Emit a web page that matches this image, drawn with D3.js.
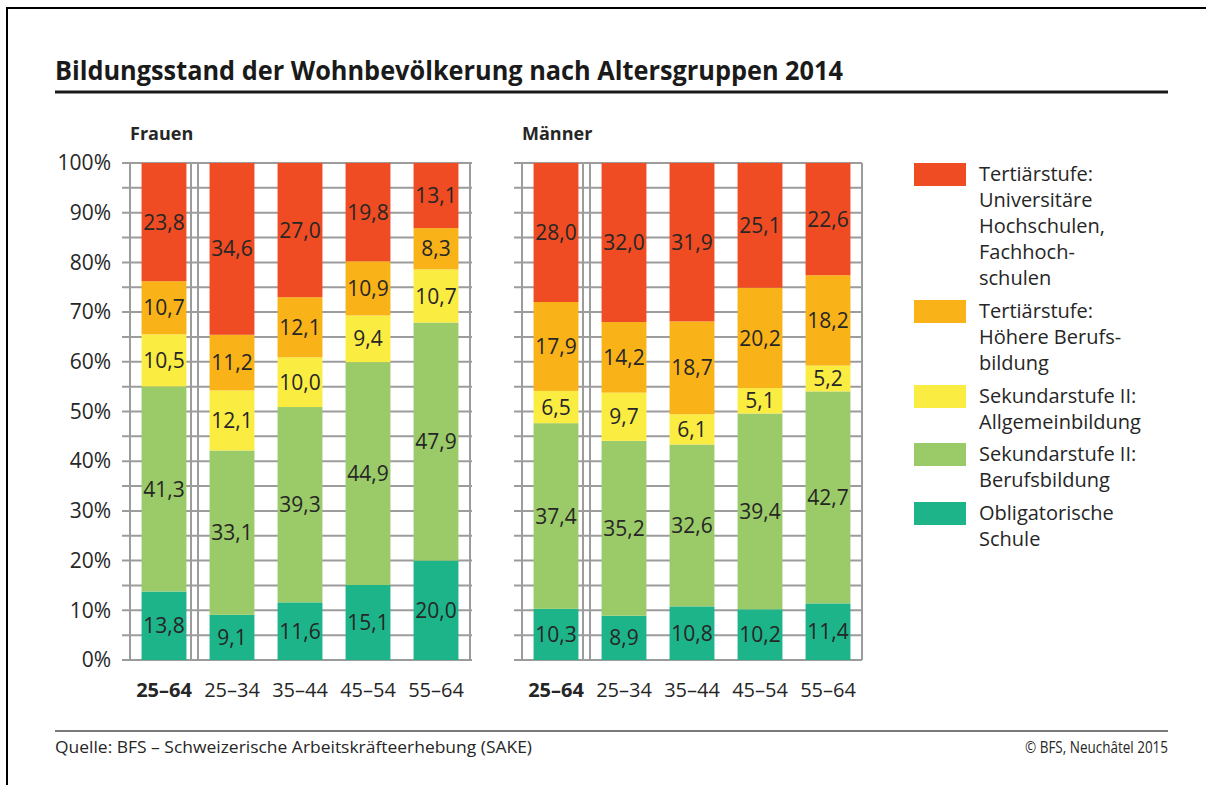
<!DOCTYPE html>
<html lang="de">

<head>
    <meta charset="UTF-8">
    <title>Bildungsstand der Wohnbevölkerung nach Altersgruppen 2014</title>
    <script src="https://d3js.org/d3.v7.min.js"></script>
    <style>
        body { margin: 0; background: #fff; }
        text { font-family: "Open Sans", "Noto Sans", sans-serif; fill: #262626; }
    </style>
</head>

<body>
    <script>
        // Daten
        var categories = ["25–64", "25–34", "35–44", "45–54", "55–64"];
        var levels = ["obl", "sek2b", "sek2a", "tert_b", "tert_u"];
        var levelNames = [
            ["Obligatorische", "Schule"],
            ["Sekundarstufe II:", "Berufsbildung"],
            ["Sekundarstufe II:", "Allgemeinbildung"],
            ["Tertiärstufe:", "Höhere Berufs-", "bildung"],
            ["Tertiärstufe:", "Universitäre", "Hochschulen,", "Fachhoch-", "schulen"]
        ];
        var colors = ["#1db48a", "#9bcb68", "#fbec42", "#f9b318", "#ef4c23"];

        // Frauen (unten nach oben)
        var frauenObl = [13.8, 9.1, 11.6, 15.1, 20.0];
        var frauenSek2b = [41.3, 33.1, 39.3, 44.9, 47.9];
        var frauenSek2a = [10.5, 12.1, 10.0, 9.4, 10.7];
        var frauenTertB = [10.7, 11.2, 12.1, 10.9, 8.3];
        var frauenTertU = [23.8, 34.6, 27.0, 19.8, 13.1];

        // Männer
        var maennerObl = [10.3, 8.9, 10.8, 10.2, 11.4];
        var maennerSek2b = [37.4, 35.2, 32.6, 39.4, 42.7];
        var maennerSek2a = [6.5, 9.7, 6.1, 5.1, 5.2];
        var maennerTertB = [17.9, 14.2, 18.7, 20.2, 18.2];
        var maennerTertU = [28.0, 32.0, 31.9, 25.1, 22.6];

        var yTicks = [0, 10, 20, 30, 40, 50, 60, 70, 80, 90, 100];

        function toRows(series) {
            return categories.map(function (c, i) {
                var row = { cat: c };
                levels.forEach(function (l, j) { row[l] = series[j][i]; });
                return row;
            });
        }

        var panels = [
            { title: "Frauen", x0: 130, rows: toRows([frauenObl, frauenSek2b, frauenSek2a, frauenTertB, frauenTertU]), axis: true },
            { title: "Männer", x0: 522, rows: toRows([maennerObl, maennerSek2b, maennerSek2a, maennerTertB, maennerTertU]), axis: false }
        ];

        var width = 1206, height = 787;
        var plotTop = 163, plotBottom = 660, plotW = 340;
        var gridColor = "#9c9c9c";

        var svg = d3.select("body").append("svg")
            .attr("width", width)
            .attr("height", height);

        // Rahmen (oben und links)
        svg.append("line").attr("x1", 6).attr("x2", width).attr("y1", 8).attr("y2", 8)
            .attr("stroke", "#000").attr("stroke-width", 2);
        svg.append("line").attr("x1", 7).attr("x2", 7).attr("y1", 8).attr("y2", 785)
            .attr("stroke", "#000").attr("stroke-width", 2);

        // Titel
        svg.append("text")
            .attr("x", 55).attr("y", 80)
            .attr("textLength", 788).attr("lengthAdjust", "spacingAndGlyphs")
            .style("font-size", "27px").style("font-weight", "bold").style("fill", "#1a1a1a")
            .text("Bildungsstand der Wohnbevölkerung nach Altersgruppen 2014");
        svg.append("line").attr("x1", 55).attr("x2", 1168).attr("y1", 92).attr("y2", 92)
            .attr("stroke", "#1a1a1a").attr("stroke-width", 3);

        var y = d3.scaleLinear().domain([0, 1]).range([plotBottom, plotTop]);
        var yPct = d3.scaleLinear().domain([0, 100]).range([plotBottom, plotTop]);

        var stack = d3.stack().keys(levels).offset(d3.stackOffsetExpand);

        panels.forEach(function (p) {
            var x = d3.scaleBand()
                .domain(categories)
                .range([p.x0, p.x0 + plotW])
                .paddingInner(0.34)
                .paddingOuter(0.17);

            var g = svg.append("g");

            // Untertitel
            g.append("text")
                .attr("x", p.x0).attr("y", 140)
                .style("font-size", "18px").style("font-weight", "bold")
                .text(p.title);

            // horizontale Gitterlinien alle 5%
            g.selectAll("line.hgrid")
                .data(d3.range(0, 101, 5))
                .enter().append("line")
                .attr("class", "hgrid")
                .attr("x1", p.x0 - 8).attr("x2", p.x0 + plotW + (p.axis ? 2 : 0))
                .attr("y1", function (d) { return yPct(d); })
                .attr("y2", function (d) { return yPct(d); })
                .attr("stroke", gridColor).attr("stroke-width", 2);

            // vertikale Linien: Rand links/rechts und Doppellinie nach Total
            var sep = x(categories[1]) - (x.step() - x.bandwidth()) / 2;
            [p.x0, sep - 7, sep, p.x0 + plotW].forEach(function (vx) {
                g.append("line")
                    .attr("x1", vx).attr("x2", vx)
                    .attr("y1", plotTop).attr("y2", plotBottom)
                    .attr("stroke", gridColor).attr("stroke-width", 2);
            });

            // Balken
            var layers = g.selectAll("g.layer")
                .data(stack(p.rows))
                .enter().append("g")
                .attr("class", "layer")
                .attr("fill", function (d, i) { return colors[i]; });

            layers.selectAll("rect")
                .data(function (d) { return d; })
                .enter().append("rect")
                .attr("x", function (d) { return x(d.data.cat); })
                .attr("width", x.bandwidth())
                .attr("y", function (d) { return y(d[1]); })
                .attr("height", function (d) { return y(d[0]) - y(d[1]); });

            // Werte
            layers.each(function (layer) {
                d3.select(this).selectAll("text")
                    .data(layer)
                    .enter().append("text")
                    .attr("x", function (d) { return x(d.data.cat) + x.bandwidth() / 2; })
                    .attr("y", function (d) { return y((d[0] + d[1]) / 2); })
                    .attr("dy", "0.36em")
                    .attr("text-anchor", "middle")
                    .style("font-size", "21px")
                    .style("fill", "#262626")
                    .text(function (d) { return d3.format(".1f")(d.data[layer.key]).replace(".", ","); });
            });

            // x-Achse Beschriftung
            g.selectAll("text.xlab")
                .data(categories)
                .enter().append("text")
                .attr("class", "xlab")
                .attr("x", function (d) { return x(d) + x.bandwidth() / 2; })
                .attr("y", 697)
                .attr("text-anchor", "middle")
                .style("font-size", "20px")
                .style("font-weight", function (d, i) { return i === 0 ? "bold" : "normal"; })
                .text(function (d) { return d; });

            // y-Achse
            if (p.axis) {
                var ax = g.append("g")
                    .attr("transform", "translate(" + (p.x0 - 8) + ",0)")
                    .call(d3.axisLeft(yPct).tickValues(yTicks).tickSize(0).tickPadding(11)
                        .tickFormat(function (d) { return d + "%"; }));
                ax.select(".domain").remove();
                ax.selectAll("text").style("font-size", "21px").style("font-family", "\"Open Sans\", sans-serif")
                    .attr("fill", "#262626");
            }
        });

        // Legende
        var legendY = [163, 300, 385, 443, 502];
        var lg = svg.append("g");
        for (var i = levels.length - 1, k = 0; i >= 0; i--, k++) {
            lg.append("rect")
                .attr("x", 914).attr("y", legendY[k])
                .attr("width", 52).attr("height", 23)
                .attr("fill", colors[i]);
            var t = lg.append("text")
                .attr("x", 979).attr("y", legendY[k] + 18)
                .style("font-size", "20px");
            levelNames[i].forEach(function (line, j) {
                t.append("tspan").attr("x", 979).attr("dy", j === 0 ? 0 : 26).text(line);
            });
        }

        // Fusszeile
        svg.append("line").attr("x1", 55).attr("x2", 1168).attr("y1", 731).attr("y2", 731)
            .attr("stroke", "#7a7a7a").attr("stroke-width", 2);
        svg.append("text")
            .attr("x", 55).attr("y", 753)
            .attr("textLength", 477).attr("lengthAdjust", "spacingAndGlyphs")
            .style("font-size", "16px")
            .text("Quelle: BFS – Schweizerische Arbeitskräfteerhebung (SAKE)");
        svg.append("text")
            .attr("x", 1168).attr("y", 753)
            .attr("text-anchor", "end")
            .attr("textLength", 143).attr("lengthAdjust", "spacingAndGlyphs")
            .style("font-size", "16px")
            .text("© BFS, Neuchâtel 2015");
    </script>
</body>

</html>
